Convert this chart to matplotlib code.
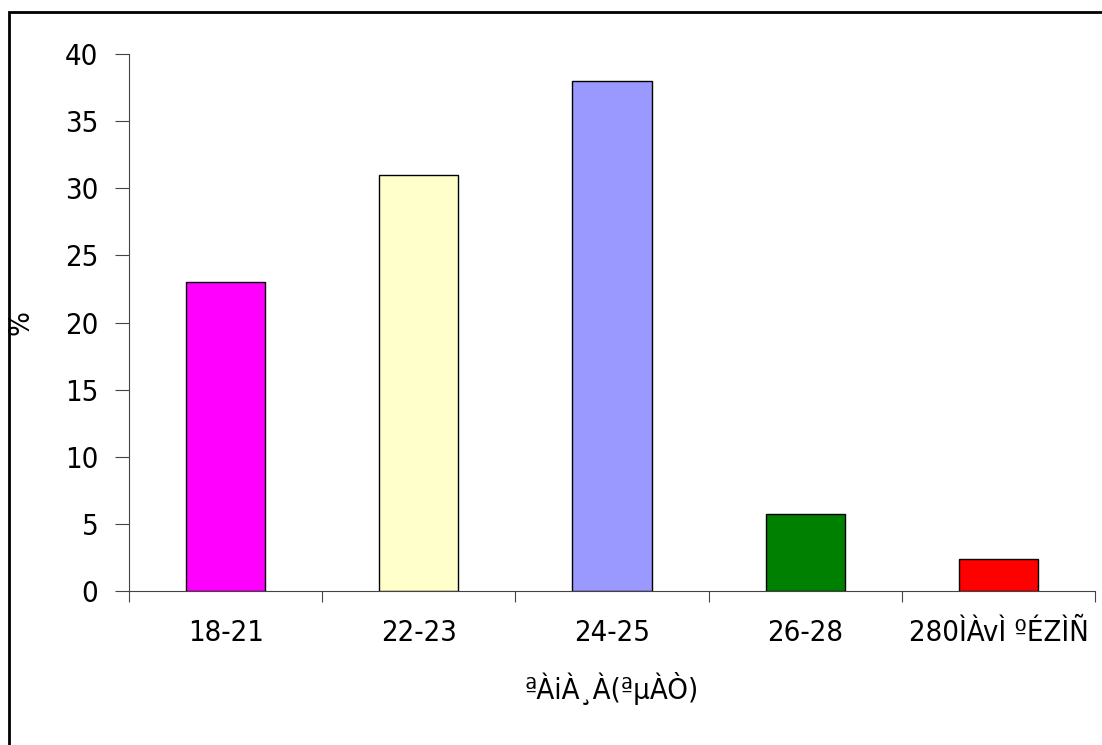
import matplotlib
matplotlib.use("Agg")
import matplotlib.pyplot as plt
from matplotlib.patches import Rectangle

categories = ["18-21", "22-23", "24-25", "26-28", "280ÌÀvÌ ºÉZÌÑ"]
values = [23, 31, 38, 5.7, 2.4]
colors = ["#FF00FF", "#FFFFCC", "#9999FF", "#008000", "#FF0000"]
yticks = [0, 5, 10, 15, 20, 25, 30, 35, 40]
xlabel = "ªÀiÀ¸À(ªµÀÒ)"
ylabel = "%"

plt.rcParams['font.family'] = ['DejaVu Sans']
plt.rcParams['font.stretch'] = 'condensed'

fig = plt.figure(figsize=(11.02, 7.45), dpi=100)
ax = fig.add_axes([129/1102, 1-591/745, (1095-129)/1102, (591-54)/745])

x = list(range(len(categories)))
ax.bar(x, values, width=0.41, color=colors, edgecolor="black", linewidth=1)
ax.set_xlim(-0.5, len(categories) - 0.5)
ax.set_ylim(0, 40)
ax.set_yticks(yticks)
ax.set_yticklabels([str(v) for v in yticks], fontsize=21)
ax.set_xticks([i - 0.5 for i in range(len(categories) + 1)])
ax.set_xticklabels([])
ax.set_xticks(x, minor=True)
ax.set_xticklabels(categories, minor=True, fontsize=21)
ax.tick_params(axis='x', which='minor', length=0, pad=20)
ax.tick_params(axis='x', which='major', length=8, direction='out', color='#444444')
ax.tick_params(axis='y', length=10, direction='out', pad=12, color='#444444')
for s in ['top', 'right']:
    ax.spines[s].set_visible(False)
ax.spines['left'].set_color('#444444')
ax.spines['bottom'].set_color('#444444')
ax.set_ylabel(ylabel, fontsize=21)
ax.yaxis.set_label_coords((35 - 129) / (1095 - 129), 0.5)
ax.set_xlabel(xlabel, fontsize=21, labelpad=18)

fig.patches.append(Rectangle((9/1102, -0.1), 1.2, 0.1 + 1 - 12/745, transform=fig.transFigure,
                             fill=False, edgecolor='black', linewidth=2, clip_on=False))
fig.savefig("out.png", dpi=100)
